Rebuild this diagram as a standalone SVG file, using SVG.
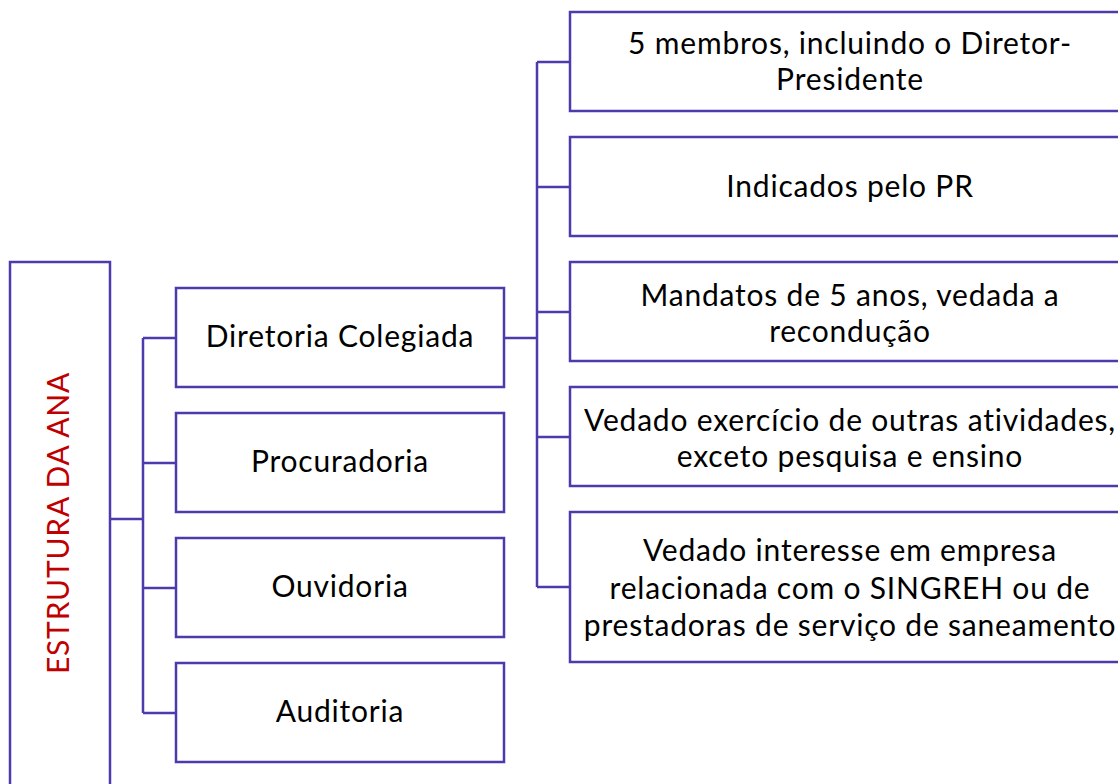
<svg xmlns="http://www.w3.org/2000/svg" width="1118" height="784" viewBox="0 0 1118 784">
<style>
.box{fill:#fff;stroke:#4B3BAB;stroke-width:2.5}
.con{fill:none;stroke:#4B3BAB;stroke-width:2.5}
.t{font-family:Lato,"Noto Sans",sans-serif;font-size:30px;letter-spacing:0.8px;fill:#000;text-anchor:middle}
.title{font-family:Lato,"Noto Sans",sans-serif;font-size:30px;letter-spacing:0.8px;fill:#C00000;text-anchor:middle}
</style>
<rect width="1118" height="784" fill="#fff"/>
<g id="connectors">
<path class="con" d="M110 519H143M143 338V713M143 338H176M143 463H176M143 588H176M143 713H176"/>
<path class="con" d="M504 338H537M537 62V587M537 62H570M537 187H570M537 312H570M537 437H570M537 587H570"/>
</g>
<g id="root"><rect class="box" x="10" y="262" width="100" height="560"/>
<text class="title" transform="translate(69 523) rotate(-90)">ESTRUTURA DA ANA</text></g>
<g id="diretoria"><rect class="box" x="176" y="288" width="328" height="99"/><text class="t" x="340" y="347">Diretoria Colegiada</text></g>
<g id="procuradoria"><rect class="box" x="176" y="413" width="328" height="99"/><text class="t" x="340" y="472">Procuradoria</text></g>
<g id="ouvidoria"><rect class="box" x="176" y="538" width="328" height="99"/><text class="t" x="340" y="597">Ouvidoria</text></g>
<g id="auditoria"><rect class="box" x="176" y="663" width="328" height="99"/><text class="t" x="340" y="722">Auditoria</text></g>
<g id="membros"><rect class="box" x="570" y="12" width="560" height="99"/><text class="t" x="850" y="54">5 membros, incluindo o Diretor-</text><text class="t" x="850" y="90">Presidente</text></g>
<g id="indicados"><rect class="box" x="570" y="137" width="560" height="99"/><text class="t" x="850" y="197">Indicados pelo PR</text></g>
<g id="mandatos"><rect class="box" x="570" y="262" width="560" height="99"/><text class="t" x="850" y="306">Mandatos de 5 anos, vedada a</text><text class="t" x="850" y="342">recondução</text></g>
<g id="vedado1"><rect class="box" x="570" y="387" width="560" height="99"/><text class="t" x="850" y="431">Vedado exercício de outras atividades,</text><text class="t" x="850" y="467">exceto pesquisa e ensino</text></g>
<g id="vedado2"><rect class="box" x="570" y="512" width="560" height="150"/><text class="t" x="850" y="561">Vedado interesse em empresa</text><text class="t" x="850" y="599">relacionada com o SINGREH ou de</text><text class="t" x="850" y="636">prestadoras de serviço de saneamento</text></g>
</svg>
